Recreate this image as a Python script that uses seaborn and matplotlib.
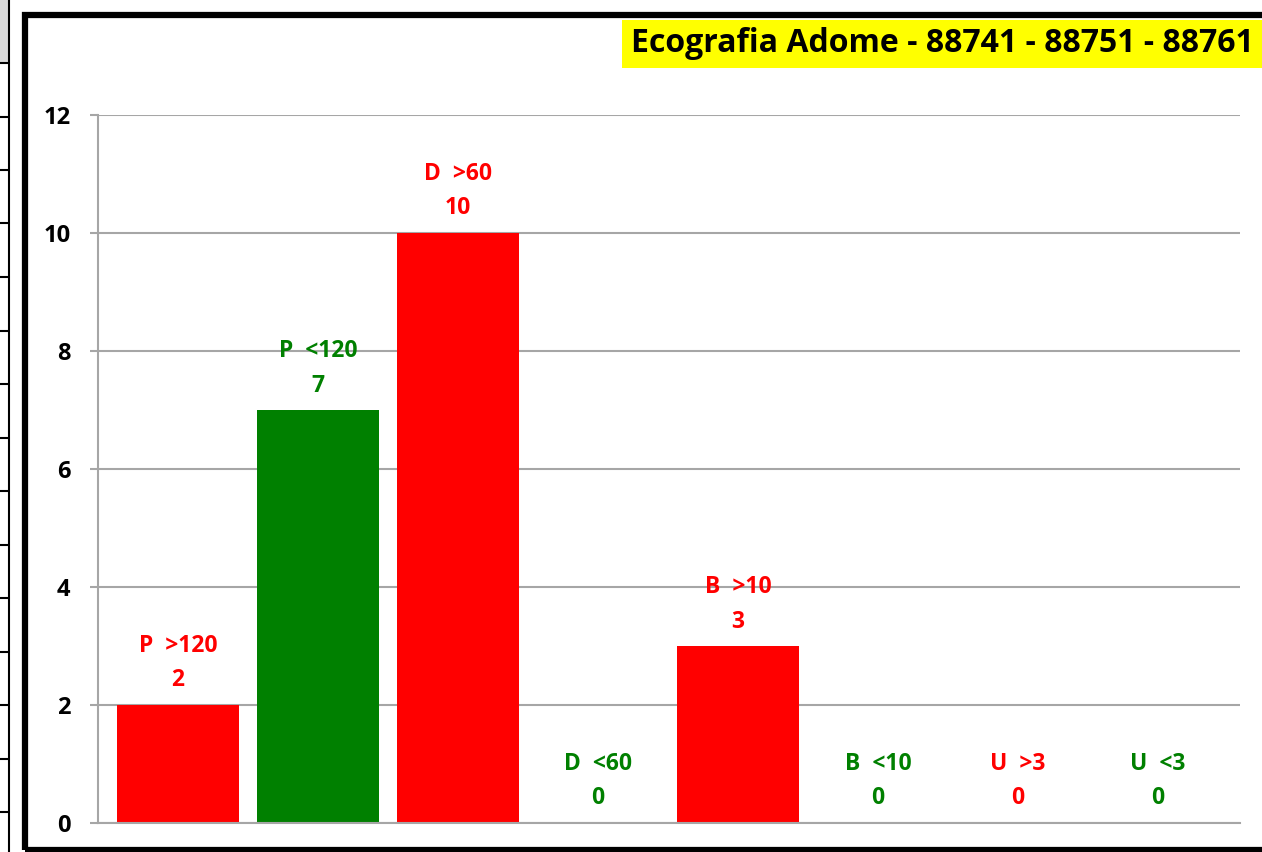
import matplotlib
matplotlib.use("Agg")
import matplotlib.pyplot as plt
import seaborn as sns
from matplotlib.patches import Rectangle
from matplotlib.lines import Line2D

# data
categories = ["P  >120", "P  <120", "D  >60", "D  <60", "B  >10", "B  <10", "U  >3", "U  <3"]
counts = [2, 7, 10, 0, 3, 0, 0, 0]
bar_colors = ["#ff0000", "#008000", "#ff0000", "#008000", "#ff0000", "#008000", "#ff0000", "#008000"]
title = "Ecografia Adome - 88741 - 88751 - 88761"

sns.set_style("white")
plt.rcParams['font.family'] = ['Open Sans', 'DejaVu Sans']
plt.rcParams['font.weight'] = 'bold'

W, H = 1262, 852
fig = plt.figure(figsize=(W / 100, H / 100), dpi=100)

# spreadsheet grid peeking out on the left
fig.patches.append(Rectangle((0, 1 - 63 / H), 9 / W, 63 / H, transform=fig.transFigure,
                             facecolor="#d9d9d9", edgecolor="none"))
fig.lines.append(Line2D([9 / W, 9 / W], [0, 1], transform=fig.transFigure, color="black", lw=1.5))
for k in range(16):
    yy = 63 + 53.5 * k
    if yy < H:
        fig.lines.append(Line2D([0, 9 / W], [1 - yy / H, 1 - yy / H], transform=fig.transFigure,
                                color="black", lw=1.5))

# chart frame
fig.patches.append(Rectangle((25 / W, 1 - 850 / H), 1.1, (850 - 15) / H, transform=fig.transFigure,
                             facecolor="none", edgecolor="black", lw=4.5, zorder=5))

ax = fig.add_axes([98 / W, 29 / H, (1240 - 98) / W, (823 - 115) / H])
ax.set_facecolor("none")

sns.barplot(x=categories, y=counts, hue=categories, palette=bar_colors, width=0.87,
            legend=False, ax=ax, saturation=1, linewidth=0)

ax.set_xlim(-0.571, 7.586)
ax.set_ylim(0, 12)
ax.set_yticks(range(0, 13, 2))
ax.yaxis.grid(True, color="#a6a6a6", lw=1.5)
ax.set_axisbelow(True)
for s in ["top", "right"]:
    ax.spines[s].set_visible(False)
for s in ["left", "bottom"]:
    ax.spines[s].set_color("#a6a6a6")
    ax.spines[s].set_linewidth(1.5)
ax.tick_params(axis="y", length=6, width=1.5, color="#a6a6a6", pad=14, labelsize=17,
               labelcolor="black", left=True)
ax.tick_params(axis="x", length=0, labelbottom=False)
ax.set_xlabel("")
ax.set_ylabel("")

for i, (c, v, col) in enumerate(zip(categories, counts, bar_colors)):
    ax.annotate(f"{c}\n{v}", (i, v), xytext=(0, 9), textcoords="offset points",
                ha="center", va="bottom", color=col, fontsize=16.5, fontweight="bold",
                linespacing=1.6)

# title box
fig.patches.append(Rectangle((622 / W, 1 - 68 / H), (W - 622) / W, 48 / H, transform=fig.transFigure,
                             facecolor="#ffff00", edgecolor="none", zorder=6))
fig.text(631 / W, 1 - 44 / H, title, ha="left", va="center", fontsize=23, fontweight="bold",
         color="black", zorder=7)

fig.savefig("out.png", dpi=100)
